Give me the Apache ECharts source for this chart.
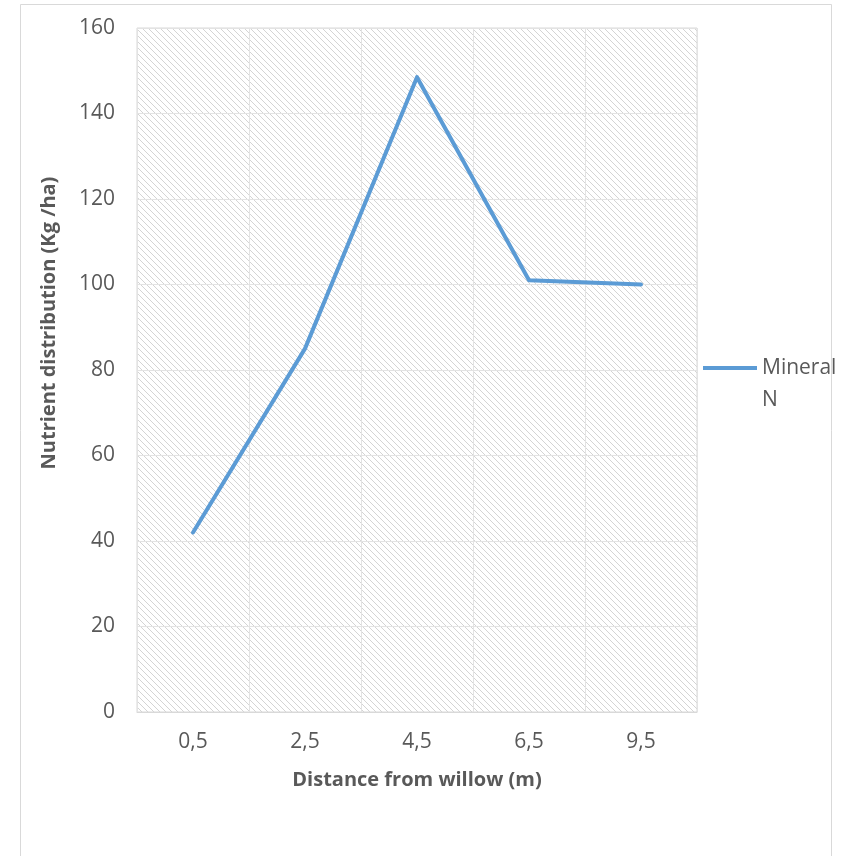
<!DOCTYPE html>
<html>
<head>
<meta charset="utf-8">
<script src="https://cdn.jsdelivr.net/npm/echarts@6/dist/echarts.min.js"></script>
<style>
  html, body { margin: 0; padding: 0; background: #fff; }
  #chart { width: 846px; height: 856px; }
</style>
</head>
<body>
<div id="chart"></div>
<script>
// Distance categories (m) and mineral N values (kg/ha)
var distances = ['0,5', '2,5', '4,5', '6,5', '9,5'];
var mineralN = [42, 85, 148.5, 101, 100];
var seriesName = 'Mineral N';

// Diagonal hatch tile for the plot background
function hatchTile() {
  var c = document.createElement('canvas');
  c.width = 6; c.height = 6;
  var ctx = c.getContext('2d');
  ctx.fillStyle = '#ffffff';
  ctx.fillRect(0, 0, 6, 6);
  ctx.fillStyle = '#d4d4d4';
  for (var i = 0; i < 6; i++) {
    ctx.fillRect(i, i, 1, 1);
  }
  return c;
}

var chart = echarts.init(document.getElementById('chart'), null, { renderer: 'canvas' });
var labelColor = '#595959';
var font = '"Open Sans", "Liberation Sans", sans-serif';

chart.setOption({
  backgroundColor: '#ffffff',
  animation: false,
  textStyle: { fontFamily: font },
  graphic: [{
    type: 'rect',
    shape: { x: 20.5, y: 4.5, width: 811, height: 900 },
    style: { fill: 'none', stroke: '#d9d9d9', lineWidth: 1 },
    silent: true,
    z: -1
  }],
  grid: {
    left: 137, right: 149, top: 28, bottom: 144,
    show: true,
    backgroundColor: { image: hatchTile(), repeat: 'repeat' },
    borderColor: '#d9d9d9',
    borderWidth: 1
  },
  legend: {
    data: [seriesName],
    orient: 'vertical',
    left: 703,
    top: 320,
    padding: 0,
    itemWidth: 54,
    itemHeight: 14,
    itemGap: 4,
    icon: 'path://M0,6 L54,6 L54,10 L0,10 Z',
    // leading blank line keeps "Mineral" level with the legend line
    formatter: function () { return ' \nMineral\nN'; },
    textStyle: {
      color: labelColor,
      fontSize: 21,
      fontFamily: font,
      lineHeight: 32
    }
  },
  xAxis: {
    type: 'category',
    data: distances,
    boundaryGap: true,
    name: 'Distance from willow (m)',
    nameLocation: 'middle',
    nameGap: 58,
    nameTextStyle: { color: labelColor, fontSize: 20, fontWeight: 'bold', fontFamily: font },
    axisLine: { show: true, lineStyle: { color: '#d9d9d9', width: 1 } },
    axisTick: { show: false },
    axisLabel: { color: labelColor, fontSize: 21, margin: 20, fontFamily: font },
    splitLine: { show: true, interval: 0, lineStyle: { color: '#e3e3e3', width: 1 } }
  },
  yAxis: {
    type: 'value',
    min: 0, max: 160, interval: 20,
    name: 'Nutrient distribution (Kg /ha)',
    nameLocation: 'middle',
    nameGap: 78,
    nameTextStyle: {
      color: labelColor, fontSize: 20, fontWeight: 'bold', fontFamily: font,
      padding: [0, 0, 0, 94]
    },
    axisLine: { show: false },
    axisTick: { show: false },
    axisLabel: { color: labelColor, fontSize: 21, margin: 22, fontFamily: font },
    splitLine: { show: true, lineStyle: { color: '#e3e3e3', width: 1 } }
  },
  series: [{
    name: seriesName,
    type: 'line',
    data: mineralN,
    symbol: 'none',
    lineStyle: { color: '#5b9bd5', width: 4, join: 'round', cap: 'round' },
    itemStyle: { color: '#5b9bd5' }
  }]
});
</script>
</body>
</html>
